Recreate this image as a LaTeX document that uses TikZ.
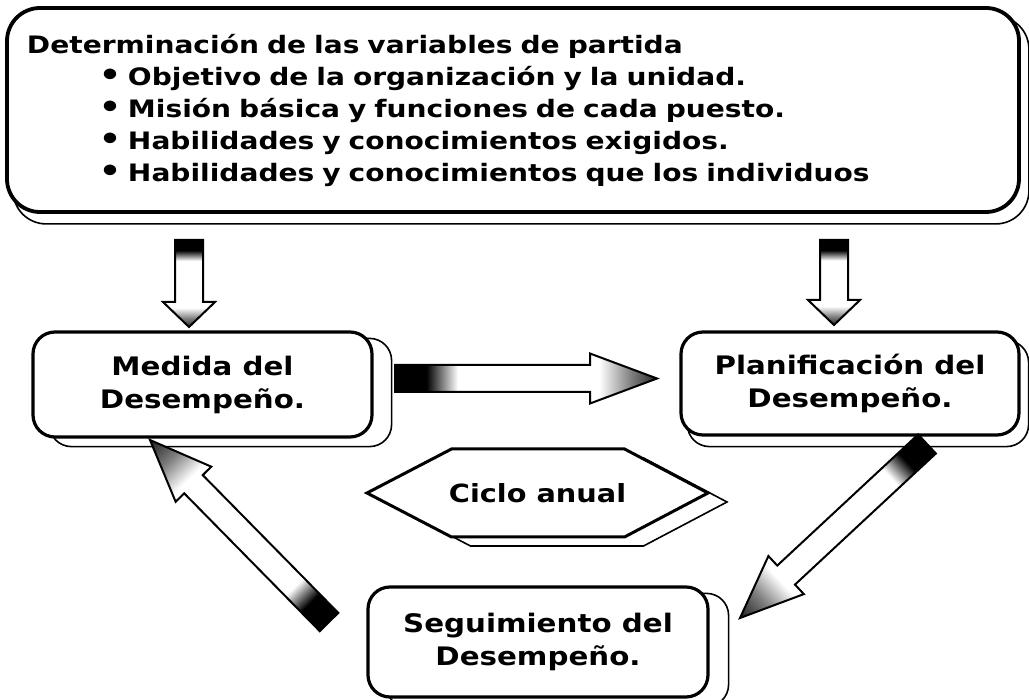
\documentclass[tikz,border=0pt]{standalone}
\usepackage{fontspec}
\newfontfamily\dvfont{DejaVu Sans}[FakeStretch=1.15]
\newfontfamily\dvtopfont{DejaVu Sans}[FakeStretch=1.17]
\usetikzlibrary{calc}
\pgfdeclarelayer{background}
\pgfsetlayers{background,main}
\pgfdeclarehorizontalshading{arrowaxis}{100bp}{color(0bp)=(black); color(31bp)=(black); color(37bp)=(white); color(64bp)=(white); color(70bp)=(black!50); color(75bp)=(black!85); color(100bp)=(black)}
\pgfdeclarehorizontalshading{arrowdiag}{100bp}{color(0bp)=(black); color(25bp)=(black); color(31bp)=(white); color(71bp)=(white); color(78bp)=(black!50); color(85bp)=(black!85); color(100bp)=(black)}
% #1 tail, #2 tip, #3 shading, #4 angle, #5 shaft half width, #6 head half width, #7 head length
\newcommand{\blockarrow}[7]{%
  \coordinate (hb) at ($(#2)!#7!(#1)$);
  \shadedraw[draw=black, line width=2pt, line join=miter, shading=#3, shading angle=#4]
    ($(#1)!#5!90:(#2)$) -- ($(hb)!#5!-90:(#1)$) -- ($(hb)!#6!-90:(#1)$) -- (#2)
    -- ($(hb)!#6!90:(#1)$) -- ($(hb)!#5!90:(#1)$) -- ($(#1)!#5!-90:(#2)$) -- cycle;
}
\tikzset{
  box/.style={draw=black, line width=3.2pt, rounded corners=22pt, fill=white,
    font=\dvfont\bfseries\fontsize{25.5}{33}\selectfont, align=center, inner sep=0pt},
  shadowline/.style={draw=black, line width=1.6pt, rounded corners=22pt, fill=white},
  hexline/.style={draw=black, line width=3pt, fill=white, line join=miter},
  hexshadow/.style={draw=black, line width=1.6pt, fill=white, line join=miter},
}
\begin{document}
\begin{tikzpicture}[x=1pt,y=-1pt]
\useasboundingbox (0,0) rectangle (1029,700);

% top box
\node[box, rounded corners=33pt, line width=3.8pt, minimum width=1012pt, minimum height=204pt,
  text width=972pt, inner xsep=20pt, align=left,
  font=\dvtopfont\bfseries\fontsize{24}{32}\selectfont] (vars) at (513,110)
  {Determinación de las variables de partida\\
   \hspace*{72pt}\makebox[29pt][l]{\fontsize{30}{32}\selectfont •}Objetivo de la organización y la unidad.\\
   \hspace*{72pt}\makebox[29pt][l]{\fontsize{30}{32}\selectfont •}Misión básica y funciones de cada puesto.\\
   \hspace*{72pt}\makebox[29pt][l]{\fontsize{30}{32}\selectfont •}Habilidades y conocimientos exigidos.\\
   \hspace*{72pt}\makebox[29pt][l]{\fontsize{30}{32}\selectfont •}Habilidades y conocimientos que los individuos};

% process boxes
\node[box, minimum width=339pt, minimum height=105pt] (medida) at (202.5,384.5) {Medida del\\Desempeño.};
\node[box, minimum width=338pt, minimum height=103pt] (plan) at (850,383.5) {Planificación del\\Desempeño.};
\node[box, minimum width=340pt, minimum height=110pt] (seg) at (538,642) {Seguimiento del\\Desempeño.};

% cycle label
\node[font=\dvfont\bfseries\fontsize{25}{30}\selectfont, inner sep=0pt] (ciclo) at (537.5,493) {Ciclo anual};

\begin{pgfonlayer}{background}
  \fill[white] (0,0) rectangle (1029,700);
  \draw[shadowline, rounded corners=33pt] ($(vars.north west)+(8,10)$) rectangle ($(vars.south east)+(8,10)$);
  \draw[shadowline] ($(medida.north west)+(18,8)$) rectangle ($(medida.south east)+(18,8)$);
  \draw[shadowline] ($(plan.north west)+(8,10)$) rectangle ($(plan.south east)+(8,10)$);
  \draw[shadowline] ($(seg.north west)+(19,8)$) rectangle ($(seg.south east)+(19,8)$);
  \draw[hexshadow] ($(ciclo)+(-151.5,9)$) -- ($(ciclo)+(-67,-35)$) -- ($(ciclo)+(106,-35)$) -- ($(ciclo)+(189.5,9)$)
    -- ($(ciclo)+(106,53)$) -- ($(ciclo)+(-67,53)$) -- cycle;
  \draw[hexline] ($(ciclo)+(-170.5,0)$) -- ($(ciclo)+(-86,-44)$) -- ($(ciclo)+(87,-44)$) -- ($(ciclo)+(170.5,0)$)
    -- ($(ciclo)+(87,44)$) -- ($(ciclo)+(-86,44)$) -- cycle;
\end{pgfonlayer}

% arrow end points
\coordinate (a1t) at (189,240);  \coordinate (a1h) at (189,327);
\coordinate (a2t) at (834,240);  \coordinate (a2h) at (834,325);
\coordinate (a3t) at (395,378.5); \coordinate (a3h) at (657,378.5);
\coordinate (a4t) at (927,444);  \coordinate (a4h) at (740,618);
\coordinate (a5t) at (329,622);  \coordinate (a5h) at (150,440);

\blockarrow{a1t}{a1h}{arrowaxis}{-90}{14pt}{26pt}{25pt}
\blockarrow{a2t}{a2h}{arrowaxis}{-90}{14pt}{26pt}{25pt}
\blockarrow{a3t}{a3h}{arrowaxis}{0}{13.5pt}{25pt}{67pt}
\blockarrow{a4t}{a4h}{arrowdiag}{-137}{13pt}{26pt}{63pt}
\blockarrow{a5t}{a5h}{arrowdiag}{134.5}{13pt}{25pt}{62pt}
\end{tikzpicture}
\end{document}
